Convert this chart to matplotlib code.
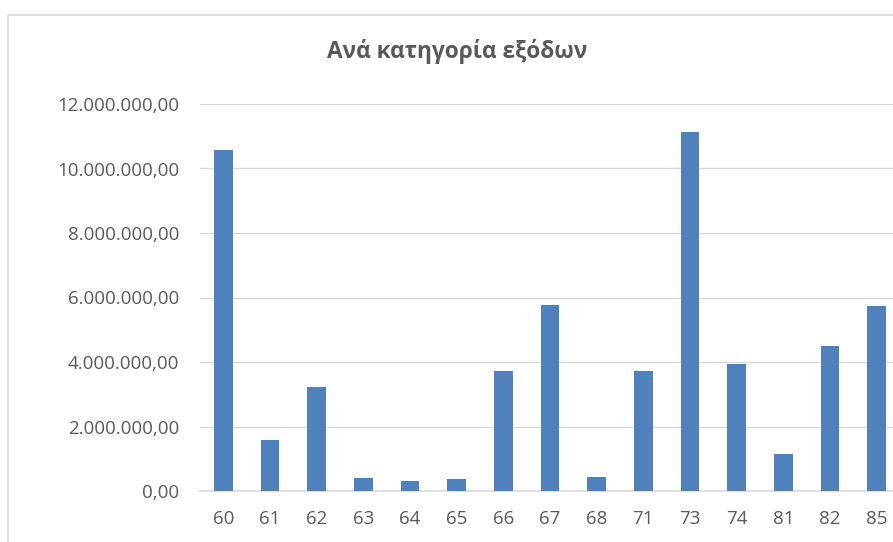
#!/usr/bin/env python

# Bar chart of expenses per category, Excel style.

import matplotlib
matplotlib.use('Agg')
import matplotlib.pyplot as plt
from matplotlib.patches import Rectangle
from matplotlib.ticker import FuncFormatter

categories = ['60', '61', '62', '63', '64', '65', '66', '67', '68',
              '71', '73', '74', '81', '82', '85']
values = [10570000, 1580000, 3220000, 400000, 310000, 360000, 3720000,
          5770000, 420000, 3720000, 11130000, 3940000, 1150000, 4500000,
          5740000]
title = 'Ανά κατηγορία εξόδων'

W, H = 893, 542
FONT = ['Open Sans', 'DejaVu Sans']
GREY = '#595959'
BLUE = '#4f81bd'

plt.rcParams['font.family'] = FONT


def greek_fmt(v, pos):
    s = f'{v:,.2f}'
    return s.replace(',', 'X').replace('.', ',').replace('X', '.')


fig = plt.figure(figsize=(W / 100, H / 100), dpi=100)

# chart frame (cut off at right and bottom)
fig.patches.append(Rectangle((8 / W, -0.1), 1.2, (H - 15) / H + 0.1,
                             transform=fig.transFigure, fill=False,
                             edgecolor='#d9d9d9', linewidth=1.2))

# plot area runs past the right edge of the image
left, right = 200, 900
top, bottom = 104, 491
ax = fig.add_axes([left / W, 1 - bottom / H, (right - left) / W,
                   (bottom - top) / H])

x = range(len(categories))
ax.bar(x, values, width=0.4, color=BLUE, zorder=3)
ax.set_xlim(-0.5, len(categories) - 0.5)
ax.set_ylim(0, 12000000)
ax.set_yticks(range(0, 12000001, 2000000))
ax.yaxis.set_major_formatter(FuncFormatter(greek_fmt))
ax.set_xticks(list(x))
ax.set_xticklabels(categories)

ax.grid(axis='y', color='#d9d9d9', linewidth=1.0, zorder=0)
for s in ['top', 'right', 'left']:
    ax.spines[s].set_visible(False)
ax.spines['bottom'].set_color('#d9d9d9')
ax.spines['bottom'].set_linewidth(1.2)
ax.tick_params(axis='both', length=0, labelsize=13.5, labelcolor=GREY)
ax.tick_params(axis='y', pad=15)
ax.tick_params(axis='x', pad=14)

fig.text(457 / W, 1 - 52 / H, title, ha='center', va='center',
         fontsize=16.3, fontweight='bold', color=GREY)

fig.savefig('out.png', dpi=100)
